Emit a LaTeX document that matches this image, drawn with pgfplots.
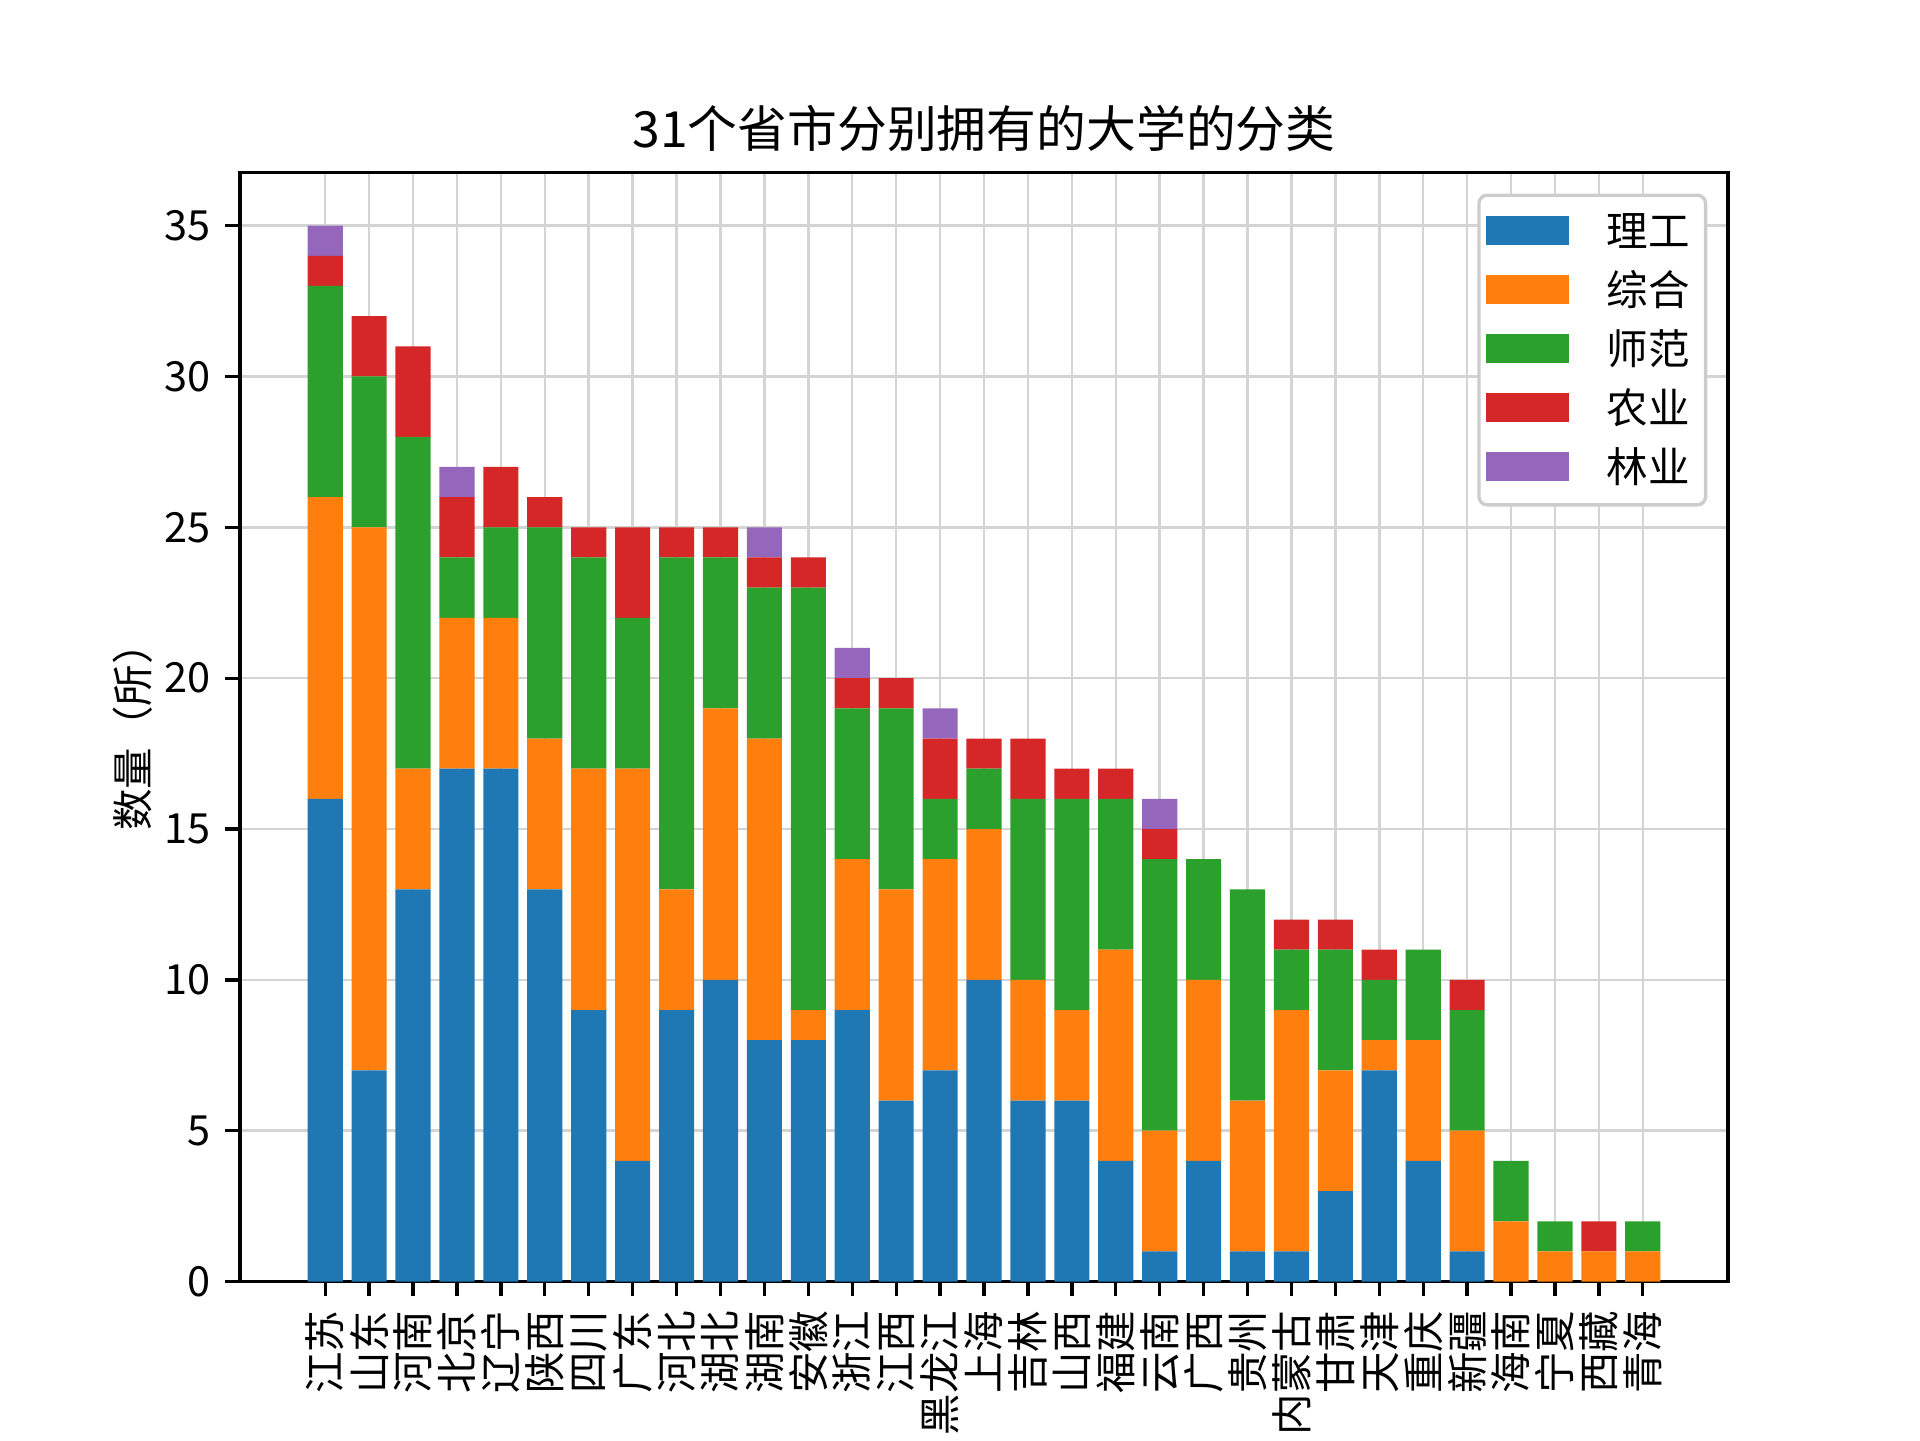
\documentclass[border=0pt]{standalone}
\usepackage{pgfplots}
\pgfplotsset{compat=1.18}
\usepackage{pgfplotstable}
\usepackage{fontspec}
\setmainfont{Noto Sans CJK SC}
\definecolor{c1}{HTML}{1F77B4}
\definecolor{c2}{HTML}{FF7F0E}
\definecolor{c3}{HTML}{2CA02C}
\definecolor{c4}{HTML}{D62728}
\definecolor{c5}{HTML}{9467BD}
\pgfplotstableread{
i lg zh sf ny ly
0 16 10 7 1 1
1 7 18 5 2 0
2 13 4 11 3 0
3 17 5 2 2 1
4 17 5 3 2 0
5 13 5 7 1 0
6 9 8 7 1 0
7 4 13 5 3 0
8 9 4 11 1 0
9 10 9 5 1 0
10 8 10 5 1 1
11 8 1 14 1 0
12 9 5 5 1 1
13 6 7 6 1 0
14 7 7 2 2 1
15 10 5 2 1 0
16 6 4 6 2 0
17 6 3 7 1 0
18 4 7 5 1 0
19 1 4 9 1 1
20 4 6 4 0 0
21 1 5 7 0 0
22 1 8 2 1 0
23 3 4 4 1 0
24 7 1 2 1 0
25 4 4 3 0 0
26 1 4 4 1 0
27 0 2 2 0 0
28 0 1 1 0 0
29 0 1 0 1 0
30 0 1 1 0 0
}\data
\begin{document}
\begin{tikzpicture}
\useasboundingbox (-0.8in,-0.528in) rectangle (5.6in,4.272in);
\begin{axis}[
  at={(0,0)}, anchor=south west,
  scale only axis, width=4.96in, height=3.696in,
  ybar stacked, bar width=0.8,
  xmin=-1.94, xmax=31.94, ymin=0, ymax=36.75,
  xtick={0,...,30},
  xticklabels={江苏,山东,河南,北京,辽宁,陕西,四川,广东,河北,湖北,湖南,安徽,浙江,江西,黑龙江,上海,吉林,山西,福建,云南,广西,贵州,内蒙古,甘肃,天津,重庆,新疆,海南,宁夏,西藏,青海},
  xticklabel style={rotate=90, anchor=east, font=\fontsize{10}{12}\selectfont},
  ytick={0,5,...,35},
  yticklabel style={font=\fontsize{10}{12}\selectfont},
  /pgf/number format/assume math mode=true,
  tick align=outside, tick pos=left,
  major tick length=3.5pt,
  tick style={black, line width=0.8pt},
  axis line style={line width=0.8pt},
  grid=major, grid style={black!17, line width=0.6pt},
  title={31个省市分别拥有的大学的分类},
  title style={font=\fontsize{12}{14}\selectfont, yshift=-4.5pt},
  ylabel={数量（所）},
  ylabel style={font=\fontsize{10}{12}\selectfont, yshift=-3.8pt},
  legend style={at={(1,1)}, anchor=north east, xshift=-5pt, yshift=-5pt,
    draw=black!20, line width=0.8pt, rounded corners=2pt, fill=white,
    font=\fontsize{10}{12}\selectfont, inner sep=1.8pt,
    nodes={text height=8.6pt, text depth=1.6pt, inner sep=2pt}, row sep=0pt},
  legend cell align=left,
  legend image code/.code={\fill[#1, sharp corners] (0pt,-3.2pt) rectangle (20pt,3.8pt);},
  every axis plot/.append style={draw=none},
]
\addplot[fill=c1] table[x=i,y=lg]{\data};
\addplot[fill=c2] table[x=i,y=zh]{\data};
\addplot[fill=c3] table[x=i,y=sf]{\data};
\addplot[fill=c4] table[x=i,y=ny]{\data};
\addplot[fill=c5] table[x=i,y=ly]{\data};
\legend{\hspace{7pt}理工,\hspace{7pt}综合,\hspace{7pt}师范,\hspace{7pt}农业,\hspace{7pt}林业}
\end{axis}
\end{tikzpicture}
\end{document}
